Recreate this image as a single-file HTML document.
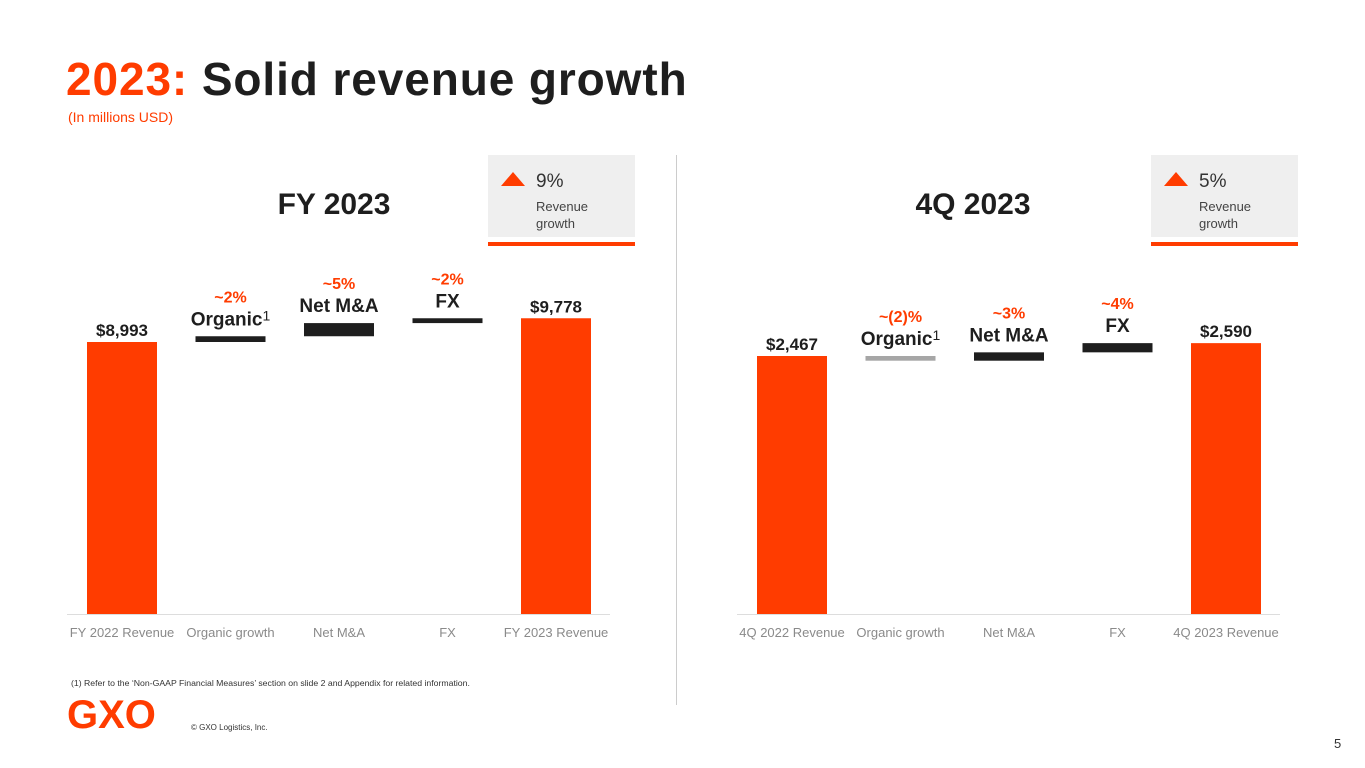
<!DOCTYPE html>
<html><head><meta charset="utf-8"><style>
body{margin:0;background:#fff;font-family:"Liberation Sans",sans-serif;}
#wrap{position:relative;width:1365px;height:768px;overflow:hidden;}
.abs{position:absolute;}
</style></head><body>
<div id="wrap">
<div class="abs" style="left:66px;top:52px;font-size:46px;font-weight:bold;color:#1e1e1e;letter-spacing:0.9px"><span style="color:#ff3c00">2023:</span> Solid revenue growth</div>
<div class="abs" style="left:68px;top:109px;font-size:14px;color:#ff3c00">(In millions USD)</div>
<div class="abs" style="left:676px;top:155px;width:1px;height:550px;background:#ccc"></div>
<svg id="chart" class="abs" style="left:0;top:0" width="1365" height="768"></svg>
<div class="abs" style="left:71px;top:678px;font-size:8.7px;color:#333">(1) Refer to the ‘Non-GAAP Financial Measures’ section on slide 2 and Appendix for related information.</div>
<div class="abs" style="left:67px;top:694px;font-size:40px;font-weight:bold;color:#ff3c00;letter-spacing:0px;line-height:42px">GXO</div>
<div class="abs" style="left:191px;top:723px;font-size:8px;color:#333">© GXO Logistics, Inc.</div>
<div class="abs" style="left:1334px;top:736px;font-size:13px;color:#333">5</div>
</div>
<script>
const categoriesFY=["FY 2022 Revenue","Organic growth","Net M&A","FX","FY 2023 Revenue"];
const valuesFY=[8993,190,435,160,9778];
const pctFY=["","~2%","~5%","~2%",""];
const namesFY=["","Organic","Net M&A","FX",""];
const categoriesQ=["4Q 2022 Revenue","Organic growth","Net M&A","FX","4Q 2023 Revenue"];
const valuesQ=[2467,-45,80,88,2590];
const pctQ=["","~(2)%","~3%","~4%",""];
const namesQ=["","Organic","Net M&A","FX",""];
const svg=document.getElementById('chart');
const NS="http://www.w3.org/2000/svg";
function mk(tag,attrs,text){const e=document.createElementNS(NS,tag);for(const k in attrs)e.setAttribute(k,attrs[k]);if(text!=null)e.textContent=text;svg.appendChild(e);return e;}
function chart(o){
  const base=614, scale=o.scale;
  const y=v=>base-v*scale;
  const xc=i=>o.x0+i*o.step;
  const ax=mk('line',{x1:o.x0-55,x2:o.x0+4*o.step+54,y1:base+0.5,y2:base+0.5,stroke:'#ddd','stroke-width':1});
  
  
  const t=mk('text',{x:o.titleX,y:214,'text-anchor':'middle','font-size':30,'font-weight':'bold',fill:'#1e1e1e'},o.title);
  
  
  let run=0;
  o.vals.forEach((v,i)=>{
    let top,bot,fill;
    if(i==0||i==o.vals.length-1){top=y(v);bot=base;fill='#ff3c00';run=v;}
    else{const a=run,b=run+v;top=y(Math.max(a,b));bot=y(Math.min(a,b));fill=v<0?'#a6a6a6':'#1e1e1e';run=b;}
    const r=mk('rect',{x:xc(i)-35,y:top,width:70,height:Math.max(bot-top,3),fill:fill});
    
    
    const c=mk('text',{x:xc(i),y:637,'text-anchor':'middle','font-size':13,fill:'#8a8a8a'},o.cats[i]);
    
    
    if(i==0||i==o.vals.length-1){
      const l=mk('text',{x:xc(i),y:top-6,'text-anchor':'middle','font-size':17,'font-weight':'bold',fill:'#1e1e1e'},'$'+v.toLocaleString('en-US'));
      
      
    }else{
      const n=mk('text',{x:xc(i),y:top-11,'text-anchor':'middle','font-size':19,'font-weight':'bold',fill:'#1e1e1e'},o.names[i]);
      if(o.names[i]=='Organic'){const s=document.createElementNS(NS,'tspan');s.setAttribute('font-weight','normal');s.setAttribute('font-size',14);s.setAttribute('dy',-5);s.textContent='1';n.appendChild(s);}
      
      
      const p=mk('text',{x:xc(i),y:top-34,'text-anchor':'middle','font-size':16,'font-weight':'bold',fill:'#ff3c00'},o.pcts[i]);
      
      
    }
  });
  const bx=mk('rect',{x:o.boxX,y:155,width:147,height:82,fill:'#efefef'});
  
  
  const ul=mk('rect',{x:o.boxX,y:242,width:147,height:4,fill:'#ff3c00'});
  
  
  const tri=mk('polygon',{points:`${o.boxX+13},${186} ${o.boxX+37},${186} ${o.boxX+25},${172}`,fill:'#ff3c00'});
  
  
  const g=mk('text',{x:o.boxX+48,y:187,'font-size':19,fill:'#333'},o.growth);
  
  
  const g1=mk('text',{x:o.boxX+48,y:211,'font-size':13,fill:'#444'},'Revenue');
  
  
  const g2=mk('text',{x:o.boxX+48,y:228,'font-size':13,fill:'#444'},'growth');
  
  
}
chart({id:'fy',cats:categoriesFY,vals:valuesFY,pcts:pctFY,names:namesFY,x0:122,step:108.5,scale:272/8993,title:'FY 2023',titleX:334,boxX:488,growth:'9%'});
chart({id:'q4',cats:categoriesQ,vals:valuesQ,pcts:pctQ,names:namesQ,x0:792,step:108.5,scale:258/2467,title:'4Q 2023',titleX:973,boxX:1151,growth:'5%'});
</script>
</body></html>
